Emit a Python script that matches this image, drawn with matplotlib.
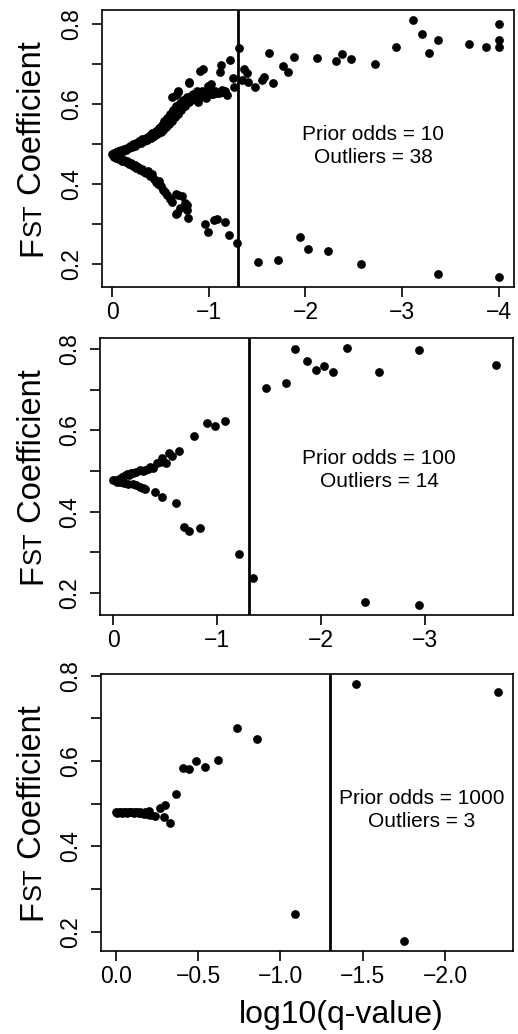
import numpy as np
import matplotlib
matplotlib.use('Agg')
import matplotlib.pyplot as plt
from matplotlib.ticker import FixedLocator, FixedFormatter

plt.rcParams['font.family'] = ['Liberation Sans', 'DejaVu Sans']

# significance cutoff, log10(0.05)
CUTOFF = np.log10(0.05)

# (log10 q-value, Fst), prior odds = 10
odds10_pts = [
    # upper arm, dense part
    (0.00, 0.474), (-0.01, 0.472), (-0.02, 0.477), (-0.03, 0.474), (-0.04, 0.480),
    (-0.05, 0.476), (-0.06, 0.482), (-0.08, 0.479), (-0.09, 0.485), (-0.11, 0.483),
    (-0.12, 0.488), (-0.14, 0.486), (-0.15, 0.491), (-0.17, 0.489), (-0.18, 0.495),
    (-0.20, 0.492), (-0.21, 0.499), (-0.23, 0.496), (-0.25, 0.503), (-0.26, 0.499),
    (-0.28, 0.507), (-0.30, 0.503), (-0.31, 0.512), (-0.33, 0.508), (-0.35, 0.516),
    (-0.36, 0.511), (-0.38, 0.521), (-0.40, 0.515), (-0.41, 0.527), (-0.43, 0.519),
    (-0.45, 0.533), (-0.46, 0.524), (-0.48, 0.540), (-0.50, 0.529), (-0.51, 0.548),
    (-0.53, 0.535), (-0.54, 0.557), (-0.56, 0.542), (-0.57, 0.566), (-0.59, 0.550),
    (-0.60, 0.575), (-0.62, 0.558), (-0.63, 0.584), (-0.65, 0.567), (-0.66, 0.594),
    (-0.68, 0.576), (-0.70, 0.603), (-0.71, 0.586), (-0.73, 0.611), (-0.75, 0.596),
    (-0.77, 0.618), (-0.79, 0.604), (-0.81, 0.615), (-0.83, 0.622), (-0.86, 0.612),
    (-0.88, 0.628), (-0.91, 0.618), (-0.93, 0.633), (-0.96, 0.621), (-1.00, 0.630),
    (-1.02, 0.625), (-1.06, 0.632), (-1.10, 0.628), (-1.14, 0.630), (-1.17, 0.633),
    # upper arm, scattered
    (-0.615, 0.618), (-0.66, 0.6225), (-0.68, 0.633), (-0.684, 0.631), (-0.79, 0.656),
    (-0.79, 0.653), (-0.82, 0.610), (-0.84, 0.625), (-0.874, 0.633), (-0.884, 0.606),
    (-0.91, 0.683), (-0.943, 0.687), (-0.97, 0.616), (-0.995, 0.645), (-1.02, 0.650),
    (-1.04, 0.625), (-1.08, 0.628), (-1.11, 0.679), (-1.126, 0.6975), (-1.133, 0.635),
    (-1.185, 0.6225), (-1.22, 0.710), (-1.254, 0.664), (-1.26, 0.642),
    # upper outliers
    (-1.316, 0.739), (-1.34, 0.660), (-1.368, 0.6875), (-1.392, 0.677), (-1.40, 0.656),
    (-1.478, 0.643), (-1.547, 0.660), (-1.575, 0.668), (-1.62, 0.727), (-1.66, 0.652),
    (-1.77, 0.696), (-1.82, 0.680), (-1.886, 0.7175), (-2.124, 0.714), (-2.314, 0.7075),
    (-2.383, 0.724), (-2.47, 0.713), (-2.72, 0.700), (-2.936, 0.742), (-3.112, 0.810),
    (-3.205, 0.775), (-3.28, 0.727), (-3.37, 0.760), (-3.696, 0.750), (-3.872, 0.742),
    (-4.00, 0.800), (-4.00, 0.760), (-4.00, 0.743),
    # lower arm
    (-0.02, 0.468), (-0.04, 0.465), (-0.05, 0.469), (-0.07, 0.462), (-0.09, 0.465),
    (-0.10, 0.458), (-0.12, 0.461), (-0.14, 0.454), (-0.15, 0.457), (-0.17, 0.450),
    (-0.19, 0.452), (-0.21, 0.446), (-0.23, 0.448), (-0.25, 0.441), (-0.27, 0.443),
    (-0.29, 0.436), (-0.31, 0.438), (-0.33, 0.431), (-0.35, 0.428), (-0.37, 0.433),
    (-0.39, 0.420), (-0.41, 0.424), (-0.43, 0.412), (-0.45, 0.406), (-0.47, 0.400),
    (-0.48, 0.408), (-0.50, 0.394), (-0.52, 0.386), (-0.55, 0.380), (-0.57, 0.372),
    (-0.60, 0.362), (-0.615, 0.356), (-0.66, 0.374), (-0.684, 0.3725), (-0.718, 0.371),
    (-0.753, 0.352), (-0.77, 0.3475), (-0.777, 0.335), (-0.667, 0.327), (-0.70, 0.339),
    (-0.788, 0.316), (-0.66, 0.324), (-0.96, 0.300), (-0.99, 0.279), (-1.05, 0.310),
    (-1.08, 0.312), (-1.17, 0.304), (-1.21, 0.2725), (-1.29, 0.253),
    # lower outliers
    (-1.51, 0.206), (-1.72, 0.210), (-1.94, 0.267), (-2.03, 0.237), (-2.23, 0.233),
    (-2.58, 0.200), (-3.37, 0.175), (-4.00, 0.168),
]

# prior odds = 100
odds100_pts = [
    (0.00, 0.478), (-0.02, 0.478), (-0.05, 0.481), (-0.08, 0.485), (-0.10, 0.488),
    (-0.128, 0.493), (-0.15, 0.491), (-0.17, 0.494), (-0.19, 0.496), (-0.22, 0.498),
    (-0.256, 0.5025), (-0.28, 0.500), (-0.30, 0.5025), (-0.337, 0.504), (-0.35, 0.510),
    (-0.385, 0.507), (-0.417, 0.520), (-0.45, 0.523), (-0.465, 0.531), (-0.506, 0.520),
    (-0.535, 0.545), (-0.56, 0.537), (-0.63, 0.549), (-0.78, 0.586), (-0.90, 0.617),
    (-0.98, 0.611), (-1.07, 0.623),
    (-0.03, 0.474), (-0.06, 0.472), (-0.10, 0.470), (-0.14, 0.468), (-0.19, 0.468),
    (-0.22, 0.465), (-0.256, 0.461), (-0.288, 0.4575), (-0.30, 0.455), (-0.40, 0.449),
    (-0.465, 0.437), (-0.603, 0.422), (-0.68, 0.363), (-0.73, 0.353), (-0.83, 0.359),
    (-1.205, 0.296),
    (-1.465, 0.705), (-1.657, 0.7156), (-1.747, 0.800), (-1.865, 0.771), (-1.946, 0.748),
    (-2.026, 0.758), (-2.115, 0.742), (-2.25, 0.802), (-2.558, 0.744), (-2.94, 0.7975),
    (-3.686, 0.761), (-1.346, 0.238), (-2.42, 0.177), (-2.94, 0.170),
]

# prior odds = 1000
odds1000_pts = [
    (0.00, 0.480), (-0.01, 0.479), (-0.02, 0.481), (-0.03, 0.480), (-0.04, 0.479),
    (-0.05, 0.481), (-0.06, 0.480), (-0.07, 0.479), (-0.08, 0.481), (-0.09, 0.480),
    (-0.10, 0.480), (-0.11, 0.479), (-0.12, 0.481), (-0.13, 0.480), (-0.14, 0.479),
    (-0.15, 0.481), (-0.16, 0.478), (-0.17, 0.477), (-0.18, 0.481), (-0.19, 0.476),
    (-0.20, 0.482), (-0.21, 0.474),
    (-0.239, 0.472), (-0.269, 0.489), (-0.293, 0.469), (-0.302, 0.497), (-0.332, 0.456),
    (-0.368, 0.522), (-0.411, 0.584), (-0.447, 0.581), (-0.49, 0.600), (-0.543, 0.587),
    (-0.619, 0.602), (-0.735, 0.677), (-0.858, 0.652), (-1.091, 0.241),
    (-1.457, 0.780), (-2.318, 0.7625), (-1.753, 0.179),
]

prior_odds = [10, 100, 1000]
n_outliers = [38, 14, 3]
x_ticks = [[0, -1, -2, -3, -4], [0, -1, -2, -3], [0.0, -0.5, -1.0, -1.5, -2.0]]
x_ticklabels = [['0', '\u22121', '\u22122', '\u22123', '\u22124'],
                ['0', '\u22121', '\u22122', '\u22123'],
                ['0.0', '\u22120.5', '\u22121.0', '\u22121.5', '\u22122.0']]
x_limits = [(0.11, -4.16), (0.13, -3.85), (0.089, -2.41)]
y_limits = [(0.1425, 0.835), (0.146, 0.826), (0.155, 0.804)]
y_ticks = [0.2, 0.3, 0.4, 0.5, 0.6, 0.7, 0.8]
y_ticklabels = ['0.2', '', '0.4', '', '0.6', '', '0.8']
label_pos = [(-2.70, 0.495), (-2.56, 0.502), (-1.858, 0.485)]

W, H = 518, 1034
fig = plt.figure(figsize=(W / 100, H / 100), dpi=100)
renderer = fig.canvas.get_renderer()

LAB_SIZE = 23.5


def text_width(s, size):
    t = fig.text(0, 0, s, fontsize=size)
    w = t.get_window_extent(renderer).width
    t.remove()
    return w


def fst_label(x_base, y_mid):
    # "F" + smaller "ST" on the same baseline + " Coefficient", reading upwards
    parts = [('F', LAB_SIZE), ('ST', LAB_SIZE * 0.78), (' Coefficient', LAB_SIZE)]
    widths = [text_width(s, sz) for s, sz in parts]
    y = y_mid + sum(widths) / 2  # pixel row where the text starts (bottom)
    for (s, sz), w in zip(parts, widths):
        fig.text(x_base / W, 1 - y / H, s, fontsize=sz, rotation=90,
                 rotation_mode='anchor', ha='left', va='baseline')
        y -= w


# axes boxes in pixels: left, top, right, bottom
boxes = [(101.7, 10, 514, 287), (100, 338.3, 513.3, 615), (101, 674, 512.7, 951)]

all_pts = [odds10_pts, odds100_pts, odds1000_pts]
for i, pts in enumerate(all_pts):
    l, t, r, b = boxes[i]
    ax = fig.add_axes([l / W, 1 - b / H, (r - l) / W, (b - t) / H])
    arr = np.array(pts)
    ax.plot(arr[:, 0], arr[:, 1], 'o', color='black', ms=6.3, mew=0)
    ax.axvline(CUTOFF, color='black', lw=2.0)
    ax.set_xlim(*x_limits[i])
    ax.set_ylim(*y_limits[i])
    ax.xaxis.set_major_locator(FixedLocator(x_ticks[i]))
    ax.xaxis.set_major_formatter(FixedFormatter(x_ticklabels[i]))
    ax.yaxis.set_major_locator(FixedLocator(y_ticks))
    ax.yaxis.set_major_formatter(FixedFormatter(y_ticklabels))
    ax.tick_params(direction='out', length=7.5, width=1.2, labelsize=16.5, color='black')
    ax.tick_params(axis='x', pad=2.5)
    ax.tick_params(axis='y', pad=6)
    for lab in ax.get_yticklabels():
        lab.set_rotation(90)
        lab.set_va('center')
    for s in ax.spines.values():
        s.set_linewidth(1.2)
    ax.text(label_pos[i][0], label_pos[i][1],
            'Prior odds = %d\nOutliers = %d' % (prior_odds[i], n_outliers[i]),
            ha='center', va='center', fontsize=15, linespacing=1.25)
    fst_label(41, (t + b) / 2)

fig.text(341 / W, 1 - 1023 / H, 'log10(q-value)', ha='center', va='baseline', fontsize=23)

fig.savefig('out.png', dpi=100)
